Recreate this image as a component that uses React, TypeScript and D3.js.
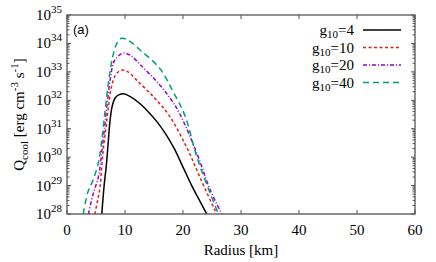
import * as d3 from 'd3';

// radius [km] and log10(Q_cool)
const r4 = [6.0, 6.4, 6.8, 7.1, 7.4, 7.8, 8.3, 9.0, 9.7, 11, 12.6, 14, 15.5, 17, 18.5, 20, 21.5, 23, 24.1];
const q4 = [28, 29.0, 29.75, 30.5, 31.25, 31.8, 32.08, 32.2, 32.23, 32.12, 31.88, 31.6, 31.25, 30.82, 30.3, 29.65, 29.0, 28.42, 28];

const r10 = [4.8, 5.3, 5.7, 6.0, 6.3, 6.7, 7.1, 7.7, 8.4, 9.4, 10.5, 12, 14.9, 17.5, 20.6, 22.9, 25.5, 25.8];
const q10 = [28, 28.5, 28.95, 29.7, 30.35, 31.0, 31.7, 32.5, 32.9, 33.06, 33.0, 32.71, 32.12, 31.5, 30.36, 29.3, 28.13, 28];

const r20 = [3.7, 4.5, 5.4, 6.0, 6.5, 7.0, 7.5, 8.2, 9.7, 11, 12.6, 15.5, 17.8, 19.5, 22.4, 24.7, 26.7];
const q20 = [28, 28.7, 29.3, 30.2, 31.1, 32.0, 32.8, 33.4, 33.66, 33.57, 33.26, 32.65, 32.07, 31.5, 30.13, 28.84, 28];

const r40 = [2.8, 3.6, 4.5, 5.4, 6.0, 6.6, 7.2, 7.9, 8.6, 9.4, 10.5, 12.6, 16, 18.3, 20.3, 22.4, 24.7, 26.1];
const q40 = [28, 28.77, 29.2, 29.8, 30.6, 31.7, 32.7, 33.55, 34.0, 34.18, 34.12, 33.77, 33.12, 32.3, 31.48, 30.0, 28.72, 28];

const legendLabels = ['4', '10', '20', '40'];
const xTicks = [0, 10, 20, 30, 40, 50, 60];
const yDecades = [28, 29, 30, 31, 32, 33, 34, 35];

const series = [
  { g: legendLabels[0], r: r4, q: q4, color: '#000000', dash: '' },
  { g: legendLabels[1], r: r10, q: q10, color: '#e51e10', dash: '3,2.5' },
  { g: legendLabels[2], r: r20, q: q20, color: '#9400d3', dash: '4,2,1,2' },
  { g: legendLabels[3], r: r40, q: q40, color: '#009e73', dash: '6,4' },
];

const W = 436;
const H = 262;
const left = 67;
const right = 415;
const top = 15;
const bottom = 214;
const serif = 'Liberation Serif';
const axisColor = '#555';

export default function App() {
  const x = d3.scaleLinear().domain([0, 60]).range([left, right]);
  const y = d3.scaleLog().domain([1e28, 1e35]).range([bottom, top]);

  const line = d3.line<[number, number]>()
    .x((d) => x(d[0]))
    .y((d) => y(Math.pow(10, d[1])))
    .curve(d3.curveCatmullRom.alpha(0.5));

  const minor: number[] = [];
  yDecades.slice(0, -1).forEach((e) => {
    for (let k = 2; k <= 9; k += 1) minor.push(k * Math.pow(10, e));
  });

  return (
    <svg width={W} height={H} style={{ position: 'absolute', left: 0, top: 0, background: '#fff' }}>
      <defs>
        <clipPath id="plot">
          <rect x={left} y={top} width={right - left} height={bottom - top} />
        </clipPath>
      </defs>

      {/* curves */}
      <g clipPath="url(#plot)">
        {series.map((s) => (
          <path
            key={s.g}
            d={line(s.r.map((v, i) => [v, s.q[i]] as [number, number])) || ''}
            fill="none"
            stroke={s.color}
            strokeWidth={1.5}
            strokeDasharray={s.dash}
          />
        ))}
      </g>

      {/* ticks */}
      <g stroke={axisColor} strokeWidth={1}>
        {xTicks.map((t) => (
          <g key={t}>
            <line x1={x(t)} x2={x(t)} y1={bottom} y2={bottom - 4} />
            <line x1={x(t)} x2={x(t)} y1={top} y2={top + 4} />
          </g>
        ))}
        {yDecades.map((e) => (
          <g key={e}>
            <line x1={left} x2={left + 4} y1={y(Math.pow(10, e))} y2={y(Math.pow(10, e))} />
            <line x1={right} x2={right - 4} y1={y(Math.pow(10, e))} y2={y(Math.pow(10, e))} />
          </g>
        ))}
        {minor.map((v) => (
          <g key={v}>
            <line x1={left} x2={left + 2.5} y1={y(v)} y2={y(v)} />
            <line x1={right} x2={right - 2.5} y1={y(v)} y2={y(v)} />
          </g>
        ))}
      </g>

      {/* frame */}
      <rect x={left} y={top} width={right - left} height={bottom - top} fill="none" stroke={axisColor} strokeWidth={1.3} />

      {/* tick labels */}
      <g fontFamily={serif} fontSize={15} fill="#000">
        {xTicks.map((t) => (
          <text key={t} x={x(t)} y={235} textAnchor="middle">{t}</text>
        ))}
        {yDecades.map((e) => (
          <text key={e} x={62} y={y(Math.pow(10, e)) + 5} textAnchor="end">
            10<tspan fontSize={11} dy={-7}>{e}</tspan>
          </text>
        ))}
      </g>

      {/* axis titles */}
      <text x={241} y={255} textAnchor="middle" fontFamily={serif} fontSize={15}>Radius [km]</text>
      <text
        transform={`translate(24, ${(top + bottom) / 2}) rotate(-90)`}
        textAnchor="middle"
        fontFamily={serif}
        fontSize={15}
      >
        Q<tspan fontSize={11} dy={4}>cool</tspan>
        <tspan dy={-4}> [erg cm</tspan>
        <tspan fontSize={11} dy={-6}>-3</tspan>
        <tspan dy={6}> s</tspan>
        <tspan fontSize={11} dy={-6}>-1</tspan>
        <tspan dy={6}>]</tspan>
      </text>

      <text x={73} y={34} fontFamily="Liberation Sans" fontSize={13}>(a)</text>

      {/* legend */}
      <g fontFamily={serif} fontSize={15}>
        {series.map((s, i) => {
          const ly = 30 + i * 17.5;
          return (
            <g key={s.g}>
              <text x={354} y={ly + 5} textAnchor="end">
                g<tspan fontSize={11} dy={3}>10</tspan>
                <tspan dy={-3}>={s.g}</tspan>
              </text>
              <line x1={363} x2={401} y1={ly} y2={ly} stroke={s.color} strokeWidth={1.5} strokeDasharray={s.dash} />
            </g>
          );
        })}
      </g>
    </svg>
  );
}
